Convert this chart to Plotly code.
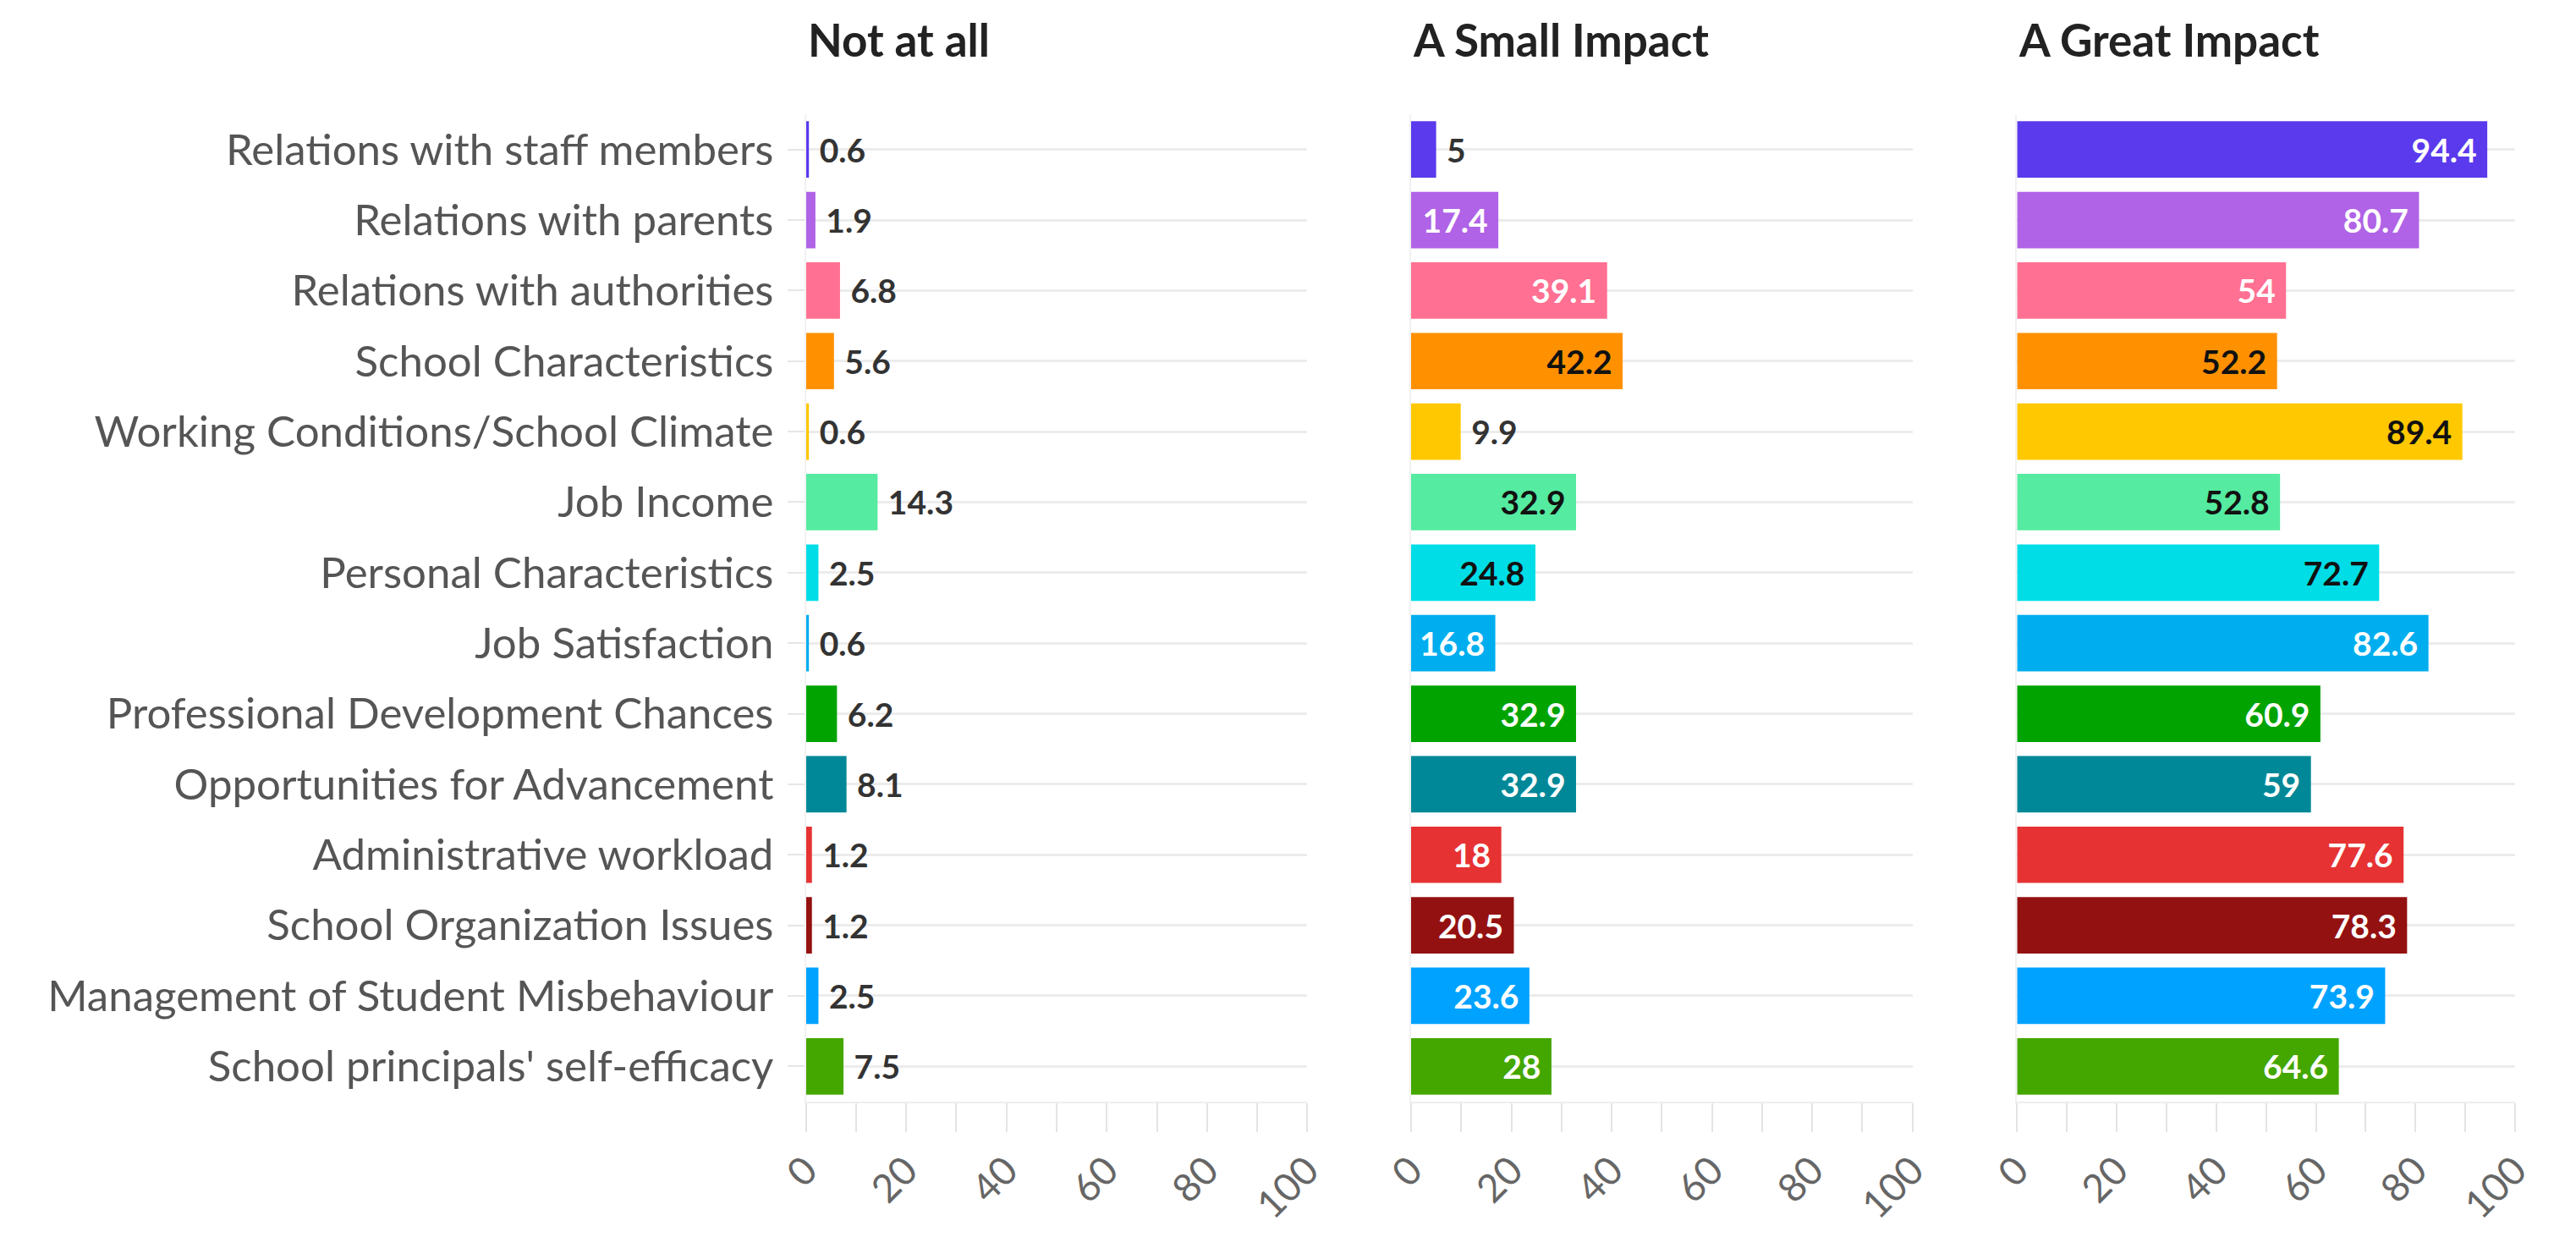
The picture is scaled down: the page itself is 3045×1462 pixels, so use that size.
import plotly.graph_objects as go

# ---------------- data ----------------
categories = [
    "Relations with staff members",
    "Relations with parents",
    "Relations with authorities",
    "School Characteristics",
    "Working Conditions/School Climate",
    "Job Income",
    "Personal Characteristics",
    "Job Satisfaction",
    "Professional Development Chances",
    "Opportunities for Advancement",
    "Administrative workload",
    "School Organization Issues",
    "Management of Student Misbehaviour",
    "School principals' self-efficacy",
]
not_at_all = [0.6, 1.9, 6.8, 5.6, 0.6, 14.3, 2.5, 0.6, 6.2, 8.1, 1.2, 1.2, 2.5, 7.5]
small_impact = [5, 17.4, 39.1, 42.2, 9.9, 32.9, 24.8, 16.8, 32.9, 32.9, 18, 20.5, 23.6, 28]
great_impact = [94.4, 80.7, 54, 52.2, 89.4, 52.8, 72.7, 82.6, 60.9, 59, 77.6, 78.3, 73.9, 64.6]
panel_titles = ["Not at all", "A Small Impact", "A Great Impact"]
x_tick_step = 20
x_minor_step = 10
x_max = 100

# ---------------- style ----------------
bar_colors = ["#5b3aed", "#b063e6", "#ff7092", "#ff9100", "#ffc800", "#55eba0", "#00dde6",
              "#00aeef", "#00a300", "#008898", "#e63232", "#941111", "#00a2ff", "#44a700"]
dark_text_bars = {"#ff9100", "#ffc800", "#55eba0", "#00dde6"}
inside_min = 15

W, H = 3045, 1462
x_domains_px = [(928, 1532), (1657, 2261), (2387, 2987)]
y_top_px, y_bot_px = 127, 1294
FONT = "Lato, 'Source Sans Pro', Roboto, sans-serif"
LABEL_GRAY = "#555555"
GRID = "#ececec"
NB = "\u00a0"

fig = go.Figure()
series = [not_at_all, small_impact, great_impact]
ydom = [1 - y_bot_px / H, 1 - y_top_px / H]

for i, vals in enumerate(series):
    sfx = "" if i == 0 else str(i + 1)
    positions = ["inside" if v >= inside_min else "outside" for v in vals]
    labels = [(f"{v:g}{NB}" if p == "inside" else f"{NB}{v:g}") for v, p in zip(vals, positions)]
    in_colors = ["#111111" if c in dark_text_bars else "#ffffff" for c in bar_colors]
    fig.add_trace(go.Bar(
        x=vals, y=categories, orientation="h",
        marker=dict(color=bar_colors, line=dict(width=0)),
        text=labels,
        textposition=positions,
        insidetextanchor="end",
        insidetextfont=dict(family=FONT, size=39, color=in_colors, weight=700),
        outsidetextfont=dict(family=FONT, size=39, color="#333333", weight=700),
        cliponaxis=False,
        xaxis="x" + sfx, yaxis="y" + sfx,
        showlegend=False, hoverinfo="skip",
    ))
    x0, x1 = x_domains_px[i]
    fig.update_layout(**{
        "xaxis" + sfx: dict(
            domain=[x0 / W, x1 / W], anchor="y" + sfx,
            range=[0, x_max], tickmode="linear", tick0=0, dtick=x_tick_step,
            ticks="outside", ticklen=34, tickwidth=2, tickcolor="#e4e4e4",
            minor=dict(dtick=x_minor_step, tick0=0, ticks="outside", ticklen=34,
                       tickwidth=2, tickcolor="#e4e4e4", showgrid=False),
            tickangle=-45, tickfont=dict(family=FONT, size=46, color="#666666"),
            showgrid=False, zeroline=False,
            showline=True, linecolor="#eeeeee", linewidth=2,
        ),
        "yaxis" + sfx: dict(
            domain=ydom, anchor="x" + sfx,
            autorange="reversed", type="category",
            showgrid=True, gridcolor=GRID, gridwidth=3,
            showticklabels=(i == 0),
            ticks="outside" if i == 0 else "", ticklen=20, tickwidth=2, tickcolor="#e6e6e6",
            ticklabelstandoff=6,
            tickfont=dict(family=FONT, size=51, color=LABEL_GRAY),
            showline=True, linecolor="#f1f1f1", linewidth=2,
            zeroline=False,
        ),
    })
    fig.add_annotation(
        text=panel_titles[i], xref="paper", yref="paper",
        x=x0 / W, y=1 - 38 / H, xanchor="left", yanchor="middle",
        showarrow=False, font=dict(family=FONT, size=53, color="#222222", weight=700),
    )

fig.update_layout(
    width=W, height=H, autosize=False,
    margin=dict(l=0, r=0, t=0, b=0),
    paper_bgcolor="white", plot_bgcolor="white",
    bargap=0.2,
)

fig.write_html("out.html")
